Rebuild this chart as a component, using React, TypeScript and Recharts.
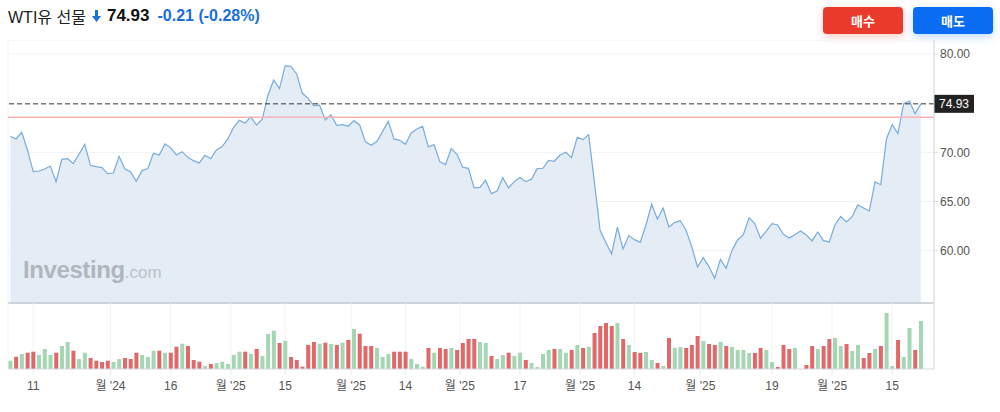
import { ComposedChart, Area, Bar, Cell, XAxis, YAxis, CartesianGrid, ReferenceLine } from "recharts"

// daily closes
const prices = [
  71.63, 71.36, 72.04, 70.24, 68.04, 68.1, 68.31, 68.61, 67.02, 69.29,
  69.35, 68.85, 69.8, 70.81, 68.68, 68.54, 68.44, 67.83, 67.9, 69.59,
  68.31, 68.04, 67.05, 68.14, 68.34, 69.9, 69.73, 70.85, 70.48, 69.73,
  70.07, 69.49, 69.15, 68.92, 69.7, 69.36, 70.24, 70.58, 71.39, 72.54,
  73.25, 72.98, 73.59, 72.78, 73.36, 75.83, 77.36, 76.48, 78.78, 78.75,
  77.97, 76.0, 75.49, 74.75, 74.8, 73.29, 73.8, 72.75, 72.81, 72.65,
  73.22, 72.78, 71.09, 70.71, 71.09, 72.1, 73.15, 71.36, 71.22, 70.82,
  71.97, 72.37, 72.65, 70.54, 70.78, 69.05, 68.75, 70.37, 69.8, 68.48,
  68.37, 66.38, 66.44, 67.16, 65.8, 66.07, 67.43, 66.38, 67.02, 67.43,
  67.02, 67.26, 68.34, 68.38, 69.19, 69.09, 69.73, 70.0, 69.46, 71.53,
  71.29, 71.8, 66.95, 62.04, 60.82, 59.66, 62.38, 60.17, 61.53, 61.12,
  60.85, 62.61, 64.72, 63.22, 64.34, 62.41, 62.85, 63.05, 62.07, 60.41,
  58.34, 59.29, 58.38, 57.19, 59.12, 58.21, 60.0, 61.09, 61.63, 63.33,
  62.75, 61.26, 62.0, 62.75, 62.61, 61.66, 61.29, 61.63, 62.0, 61.6,
  60.99, 61.9, 61.02, 60.89, 62.61, 63.49, 62.92, 63.46, 64.65, 64.34,
  64.04, 66.99, 66.71, 71.39, 72.82, 71.9, 74.95, 75.22, 73.93, 74.93,
]

// volume (10K contracts)
const volumes = [
  8.3, 12.3, 15, 16.3, 17.3, 14, 20, 14, 16.3, 23,
  27, 18.3, 10, 16.3, 11, 8.3, 7, 8.3, 7, 10,
  11, 10, 16.3, 14, 12, 18.3, 18.3, 16.3, 16.3, 22.3,
  25.3, 23, 9, 7.3, 3, 5, 6, 7.3, 5, 14,
  17.3, 17.3, 15, 20, 13, 35, 38.3, 26, 28.3, 12,
  9, 2.3, 24, 27, 25.3, 26.3, 25, 24, 26.3, 29,
  40, 35.3, 23, 23, 21, 12, 15, 17.3, 17.3, 17.3,
  10, 5, 2.3, 21, 16.3, 21, 20, 21, 19, 26,
  30, 30, 27, 26, 13, 10, 14, 16.3, 13, 16.3,
  9, 6, 2, 15, 19, 20, 20, 16.3, 19, 24,
  21, 22, 36, 43, 46, 43, 46, 30, 24, 17,
  16, 17, 9, 6, 3, 31, 21, 22, 21, 24,
  33, 28, 25, 24, 27, 23, 22, 19, 19, 16,
  16, 21, 19, 7, 2, 24, 20, 21, 0, 4,
  23, 20, 23, 30, 31, 23, 25, 18, 24, 11,
  16, 20, 23, 56, 3, 29, 12, 41, 19, 48,
]

const tickPos = [4, 17.5, 28, 38.5, 48, 59.5, 69, 78.5, 89, 99.5, 109, 120.5, 133, 143.5, 154]
const tickLabels = ["11", "월 '24", "16", "월 '25", "15", "월 '25", "14", "월 '25", "17", "월 '25", "14", "월 '25", "19", "월 '25", "15"]
const priceTicks = [60, 65, 70, 80]
const lastPrice = 74.93
const markLine = 73.56

const FONT = '"Liberation Sans", Arial, "Noto Sans CJK KR", sans-serif'
const X_DOMAIN = [-0.4, 161.3]

const data = prices.map((p, i) => ({
  i,
  price: p,
  vol: volumes[i],
  up: i === 0 || p >= prices[i - 1],
}))

function PriceTag(props: any) {
  const { viewBox } = props
  const x = viewBox.x + viewBox.width
  const y = viewBox.y
  return (
    <g>
      <rect x={x} y={y - 9} width={40} height={18} fill="#222" />
      <text x={x + 20} y={y + 4} textAnchor="middle" fill="#fff" fontSize={12} fontFamily={FONT}>
        {lastPrice.toFixed(2)}
      </text>
    </g>
  )
}

export default function App() {
  return (
    <div style={{ position: "relative", width: 1000, height: 412, fontFamily: FONT, background: "#fff", overflow: "hidden" }}>
      <style>{"body{margin:0}"}</style>

      <div style={{ position: "absolute", left: 8, top: 6, height: 20, display: "flex", alignItems: "center", whiteSpace: "nowrap" }}>
        <span style={{ fontSize: 16, color: "#222" }}>WTI유 선물</span>
        <svg width={9} height={12} style={{ marginLeft: 6 }}>
          <path d="M3 0h3v6h3L4.5 12 0 6h3z" fill="#1a6fd6" />
        </svg>
        <span style={{ fontSize: 17, fontWeight: 700, color: "#111", marginLeft: 6 }}>74.93</span>
        <span style={{ fontSize: 16, fontWeight: 600, color: "#1a6fd6", marginLeft: 8 }}>-0.21 (-0.28%)</span>
      </div>

      <div style={{ position: "absolute", left: 823, top: 7, width: 80, height: 27, borderRadius: 4, background: "#e93a2c", color: "#fff", fontSize: 13, fontWeight: 700, display: "flex", alignItems: "center", justifyContent: "center", boxShadow: "0 3px 8px rgba(233,58,44,0.25)" }}>매수</div>
      <div style={{ position: "absolute", left: 913, top: 7, width: 80, height: 27, borderRadius: 4, background: "#0a6cf2", color: "#fff", fontSize: 13, fontWeight: 700, display: "flex", alignItems: "center", justifyContent: "center", boxShadow: "0 3px 8px rgba(10,108,242,0.25)" }}>매도</div>

      <div style={{ position: "absolute", left: 0, top: 40 }}>
        <ComposedChart width={1000} height={265} data={data} margin={{ top: 0, right: 0, bottom: 0, left: 8 }}>
          <CartesianGrid stroke="#f1f2f5" />
          <XAxis dataKey="i" type="number" domain={X_DOMAIN} allowDataOverflow ticks={tickPos} tick={false} tickLine={false} axisLine={{ stroke: "#c3c7ce", strokeWidth: 1.5 }} height={2} />
          <YAxis orientation="right" width={66} domain={[54.68, 81.42]} allowDataOverflow ticks={priceTicks}
            tickFormatter={(v: number) => v.toFixed(2)} tick={{ fill: "#555", fontSize: 12, fontFamily: FONT }}
            tickSize={4} tickMargin={2} axisLine={{ stroke: "#d5d8de" }} tickLine={{ stroke: "#d5d8de" }} />
          <Area type="linear" dataKey="price" stroke="#78acd9" strokeWidth={1.2} fill="#e4edf6" fillOpacity={1}
            dot={false} activeDot={false} isAnimationActive={false} />
          <ReferenceLine y={markLine} stroke="#f6b4b4" strokeWidth={1.5} />
          <ReferenceLine y={lastPrice} stroke="#333" strokeDasharray="5 3" label={<PriceTag />} />
        </ComposedChart>
      </div>

      <div style={{ position: "absolute", left: 0, top: 303 }}>
        <ComposedChart width={1000} height={100} data={data} margin={{ top: 0, right: 0, bottom: 0, left: 8 }}>
          <CartesianGrid stroke="#f1f2f5" horizontal={false} />
          <XAxis dataKey="i" type="number" domain={X_DOMAIN} allowDataOverflow ticks={tickPos} interval={0}
            tickFormatter={(v: number) => tickLabels[tickPos.indexOf(v)]}
            tick={{ fill: "#555", fontSize: 12, fontFamily: FONT }} tickSize={6} tickMargin={6}
            tickLine={{ stroke: "#e6e8eb" }} axisLine={{ stroke: "#d5d8de" }} height={34} />
          <YAxis orientation="right" width={66} domain={[0, 66]} allowDataOverflow tick={false} tickLine={false} axisLine={{ stroke: "#d5d8de" }} />
          <Bar dataKey="vol" barSize={4} isAnimationActive={false}>
            {data.map((d) => (
              <Cell key={d.i} fill={d.up ? "#a5d6b3" : "#e16868"} />
            ))}
          </Bar>
        </ComposedChart>
      </div>

      <div style={{ position: "absolute", left: 23, top: 256, whiteSpace: "nowrap", lineHeight: "28px" }}>
        <span style={{ fontSize: 24, fontWeight: 700, color: "#b1b5bc", letterSpacing: -0.4 }}>Investing</span>
        <span style={{ fontSize: 17, color: "#bcc0c6" }}>.com</span>
      </div>
    </div>
  )
}
